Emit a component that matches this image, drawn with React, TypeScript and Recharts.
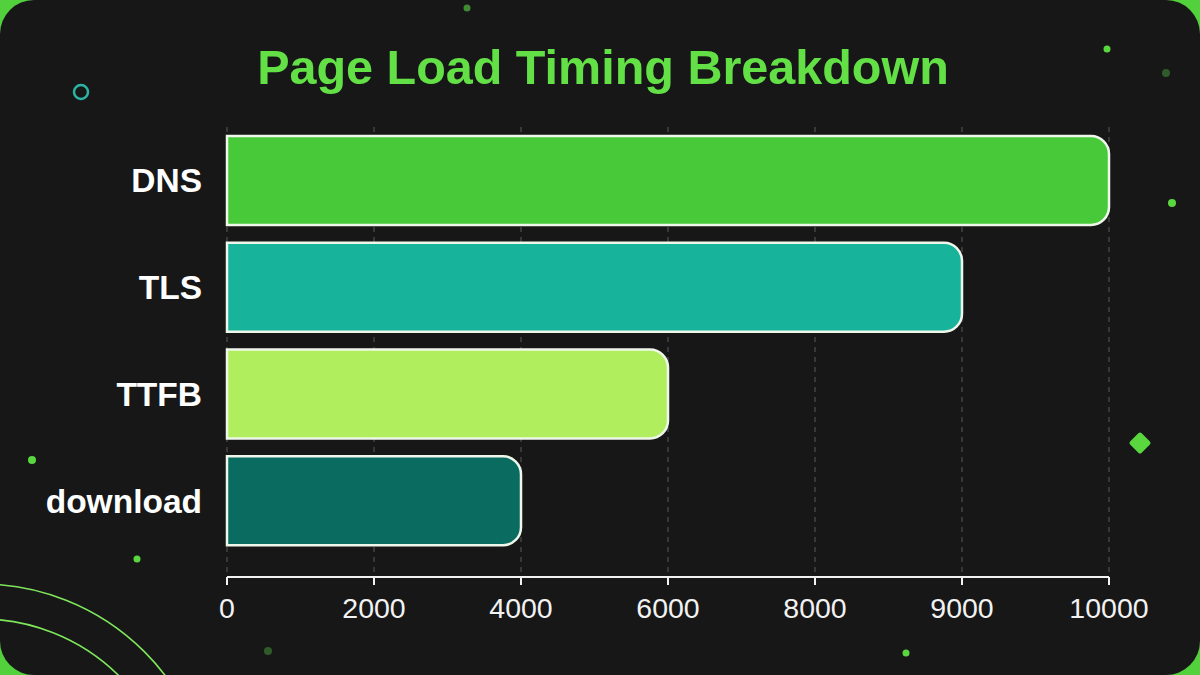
import React from "react";
import { BarChart, Bar, XAxis, YAxis, CartesianGrid, Cell } from "recharts";

// Timing phases and their durations (ms)
const phases = ["DNS", "TLS", "TTFB", "download"];
const durations = [10000, 9000, 6000, 4000];
const barColors = ["#47c93a", "#17b39b", "#b0ee5e", "#0a6b60"];

// The axis ticks in the source are evenly spaced even though 8000 -> 9000 is a smaller step
const tickValues = [0, 2000, 4000, 6000, 8000, 9000, 10000];

const FONT = "'Liberation Sans', Arial, Helvetica, sans-serif";

// map a duration onto the evenly spaced tick index
const toTickIndex = (v: number): number => {
  for (let i = 1; i < tickValues.length; i++) {
    if (v <= tickValues[i]) {
      const lo = tickValues[i - 1];
      const hi = tickValues[i];
      return i - 1 + (v - lo) / (hi - lo);
    }
  }
  return tickValues.length - 1;
};

const data = phases.map((name, i) => ({ name, value: durations[i] }));

function Decorations() {
  return (
    <svg
      width={1200}
      height={675}
      style={{ position: "absolute", left: 0, top: 0, pointerEvents: "none" }}
    >
      <circle cx={81} cy={92} r={7} fill="none" stroke="#2bb3a3" strokeWidth={2.5} />
      <circle cx={467} cy={8} r={3.5} fill="#3f8a33" />
      <circle cx={1107} cy={49} r={3.5} fill="#5ad63f" />
      <circle cx={1166} cy={73} r={4} fill="#2f5a2a" />
      <circle cx={1172} cy={203} r={4} fill="#5ad63f" />
      <rect x={1132} y={435} width={16} height={16} fill="#5ad63f" transform="rotate(45 1140 443)" rx={2} />
      <circle cx={32} cy={460} r={4} fill="#5ad63f" />
      <circle cx={137} cy={559} r={3.5} fill="#5ad63f" />
      <circle cx={268} cy={651} r={4} fill="#2f5a2a" />
      <circle cx={906} cy={653} r={3.5} fill="#5ad63f" />
      <circle cx={-19} cy={815} r={231} fill="none" stroke="#7ee65a" strokeWidth={1.6} />
      <circle cx={-19} cy={815} r={196} fill="none" stroke="#7ee65a" strokeWidth={1.6} />
    </svg>
  );
}

export default function App() {
  return (
    <div
      style={{
        position: "fixed",
        left: 0,
        top: 0,
        width: 1200,
        height: 675,
        background: "#52d13c",
        overflow: "hidden",
      }}
    >
      <div
        style={{
          position: "absolute",
          inset: 0,
          background: "#171718",
          borderRadius: 34,
          overflow: "hidden",
        }}
      >
        <Decorations />
        <div
          style={{
            position: "absolute",
            left: 0,
            top: 39,
            width: 1206,
            textAlign: "center",
            fontFamily: FONT,
            fontWeight: 700,
            fontSize: 48.5,
            lineHeight: "56px",
            color: "#62e046",
          }}
        >
          Page Load Timing Breakdown
        </div>
        <div style={{ position: "absolute", left: 0, top: 0 }}>
          <BarChart
            width={1200}
            height={675}
            data={data}
            layout="vertical"
            margin={{ top: 127, right: 91, left: 0, bottom: 58 }}
          >
            <CartesianGrid
              horizontal={false}
              stroke="#5a5a5a"
              strokeDasharray="5 5"
            />
            <XAxis
              type="number"
              domain={[0, tickValues.length - 1]}
              ticks={tickValues.map((_, i) => i)}
              tickFormatter={(i: number) => String(tickValues[i])}
              height={40}
              axisLine={{ stroke: "#f2f2f2", strokeWidth: 2 }}
              tickLine={{ stroke: "#f2f2f2", strokeWidth: 2 }}
              tickSize={8}
              tickMargin={13}
              tick={{ fill: "#f2f2f2", fontSize: 28.5, fontFamily: FONT }}
              interval={0}
            />
            <YAxis
              type="category"
              dataKey="name"
              width={227}
              axisLine={false}
              tickLine={false}
              tickSize={0}
              tickMargin={25}
              padding={{ top: 0, bottom: 23 }}
              tick={{ fill: "#ffffff", fontSize: 33.5, fontWeight: 700, fontFamily: FONT }}
            />
            <Bar
              dataKey={(d: { value: number }) => toTickIndex(d.value)}
              barSize={89}
              radius={[0, 18, 18, 0]}
              stroke="#eef7ea"
              strokeWidth={2.5}
              isAnimationActive={false}
            >
              {data.map((d, i) => (
                <Cell key={d.name} fill={barColors[i]} />
              ))}
            </Bar>
          </BarChart>
        </div>
      </div>
    </div>
  );
}
